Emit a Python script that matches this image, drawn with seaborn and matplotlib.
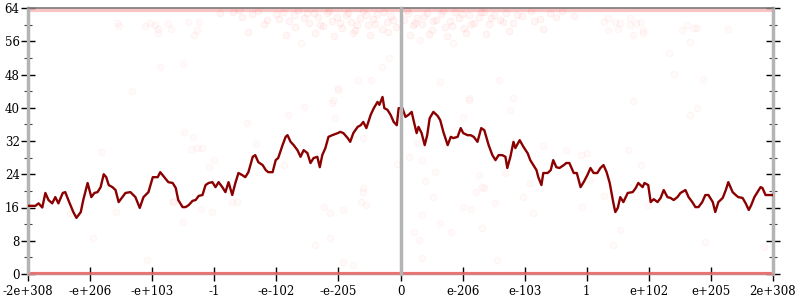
import numpy as np
import pandas as pd
import matplotlib
matplotlib.use("Agg")
import matplotlib.pyplot as plt
from matplotlib.ticker import MultipleLocator
import seaborn as sns

# ---------------- data ----------------
tick_pos = [-6, -5, -4, -3, -2, -1, 0, 1, 2, 3, 4, 5, 6]
tick_labels = ["-2e+308", "-e+206", "-e+103", "-1", "-e-102", "-e-205", "0",
               "e-206", "e-103", "1", "e+102", "e+205", "2e+308"]

line_x = [-6.0, -5.88, -5.83, -5.77, -5.72, -5.67, -5.61, -5.56, -5.51, -5.44, -5.40, -5.35,
          -5.27, -5.22, -5.15, -5.11, -5.04, -4.98, -4.93, -4.88, -4.83, -4.78, -4.74, -4.70,
          -4.64, -4.59, -4.54, -4.48, -4.43, -4.35, -4.27, -4.20, -4.14, -4.06, -3.99, -3.91,
          -3.87, -3.79, -3.74, -3.67, -3.62, -3.58, -3.51, -3.46, -3.41, -3.35, -3.30, -3.25,
          -3.19, -3.14, -3.09, -3.03, -2.98, -2.93, -2.87, -2.82, -2.77, -2.71, -2.66, -2.61,
          -2.55, -2.50, -2.45, -2.38, -2.34, -2.29, -2.22, -2.17, -2.13, -2.06, -2.01, -1.97,
          -1.90, -1.85, -1.82, -1.77, -1.72, -1.66, -1.61, -1.56, -1.50, -1.45, -1.40, -1.34,
          -1.30, -1.26, -1.21, -1.16, -1.10, -1.01, -0.97, -0.92, -0.85, -0.81, -0.76, -0.69,
          -0.64, -0.60, -0.55, -0.48, -0.43, -0.37, -0.34, -0.29, -0.26, -0.21, -0.16, -0.11,
          -0.06, -0.03, 0.03, 0.08, 0.13, 0.18, 0.21, 0.26, 0.29, 0.34, 0.39, 0.43, 0.47,
          0.53, 0.60, 0.64, 0.69, 0.76, 0.81, 0.85, 0.92, 0.97, 1.01, 1.08, 1.13, 1.18, 1.24,
          1.30, 1.35, 1.42, 1.48, 1.53, 1.58, 1.64, 1.69, 1.72, 1.77, 1.82, 1.85, 1.92, 1.98,
          2.05, 2.09, 2.14, 2.19, 2.22, 2.27, 2.30, 2.37, 2.42, 2.46, 2.51, 2.56, 2.63, 2.67,
          2.72, 2.79, 2.84, 2.90, 2.95, 3.01, 3.06, 3.11, 3.17, 3.22, 3.27, 3.32, 3.37, 3.43,
          3.46, 3.50, 3.54, 3.59, 3.66, 3.74, 3.79, 3.83, 3.90, 3.93, 3.99, 4.03, 4.08, 4.14,
          4.19, 4.24, 4.30, 4.35, 4.40, 4.46, 4.51, 4.59, 4.64, 4.70, 4.75, 4.80, 4.86, 4.91,
          4.96, 5.03, 5.07, 5.12, 5.19, 5.24, 5.28, 5.35, 5.40, 5.44, 5.51, 5.56, 5.61, 5.65,
          5.70, 5.77, 5.80, 5.83, 5.88, 6.0]
line_y = [16.4, 16.4, 17.0, 16.0, 19.5, 17.8, 17.0, 18.5, 17.0, 19.5, 19.7, 17.8,
          14.9, 13.5, 14.9, 17.8, 21.9, 18.5, 19.5, 19.7, 20.9, 24.0, 23.3, 21.4,
          20.9, 20.2, 17.3, 18.5, 19.5, 19.7, 18.5, 15.9, 18.5, 19.7, 23.3, 23.3,
          24.5, 23.0, 22.1, 21.9, 20.7, 17.8, 16.1, 16.1, 16.6, 17.6, 17.8, 18.8,
          19.0, 21.4, 21.9, 22.1, 20.9, 22.1, 20.9, 19.7, 22.1, 19.0, 21.9, 24.3,
          23.8, 23.3, 24.5, 28.2, 28.6, 26.9, 26.2, 25.0, 24.5, 24.5, 27.4, 27.9,
          31.0, 33.0, 33.4, 31.8, 31.0, 29.8, 28.2, 29.8, 29.1, 26.7, 27.9, 28.2,
          25.7, 28.6, 30.3, 33.0, 33.4, 33.9, 34.2, 33.9, 32.7, 31.8, 33.9, 35.4,
          35.8, 36.6, 35.1, 38.3, 39.9, 41.4, 40.7, 42.6, 39.9, 39.5, 38.3, 36.6,
          35.8, 39.9, 39.9, 37.8, 38.3, 39.0, 37.0, 33.9, 35.4, 33.9, 31.0, 33.4, 37.5,
          39.0, 38.0, 37.0, 34.2, 31.0, 33.0, 32.7, 33.0, 35.1, 33.9, 33.4, 33.4, 33.0, 31.8,
          35.1, 34.6, 31.0, 28.6, 27.4, 28.6, 28.6, 28.2, 25.5, 28.2, 31.8, 30.3, 32.2, 30.6,
          29.0, 27.4, 26.2, 25.0, 23.3, 21.4, 24.3, 24.3, 25.0, 27.4, 25.7, 25.5, 26.2, 26.7,
          26.7, 24.3, 24.3, 20.9, 22.1, 23.8, 25.5, 24.3, 24.3, 25.5, 26.2, 24.5, 21.9, 17.0,
          14.9, 15.9, 18.5, 17.3, 19.5, 19.7, 20.7, 21.9, 20.9, 21.9, 21.4, 17.3, 18.0, 17.3,
          18.3, 20.2, 18.5, 18.3, 17.8, 18.5, 19.5, 20.2, 18.5, 17.3, 16.1, 16.1, 17.3, 19.0,
          19.0, 17.3, 14.9, 17.3, 18.3, 20.2, 22.1, 19.7, 19.0, 18.5, 18.3, 17.0, 15.4, 16.6,
          18.5, 20.2, 20.9, 20.7, 19.0, 19.0]

# sparse faint samples
pts_x = [-4.56, -4.53, -4.11, -4.03, -3.95, -3.91, -3.90, -3.74, -3.70, -3.51, -3.87, -4.32,
         -3.42, -3.33, -3.27, -3.25, -1.61, -1.08, -0.48, -0.68, -1.01, -0.19, -0.29, 0.64,
         1.10, 1.58, 0.84, 0.31, -1.56, 3.27, 3.35, 3.46, 3.54, 3.35, 3.50, 3.70, 3.70, 3.79,
         3.87, 3.91, 3.90, 3.74, 4.54, 4.62, 4.72, 4.78, 5.28, 4.67, 4.32, 4.41, 4.88, 3.75,
         4.78, 4.67, -0.61, -0.60, -0.64, -0.56, -1.24, -1.13, -0.92, -1.37, -1.13, -0.92,
         -0.77, 0.52, 0.35, 0.64, 0.81, 0.29, 0.21, 0.35, 1.01, 1.13, 1.21, 1.32, 1.32, 1.53,
         1.56, -5.32, -4.95, -4.59, -4.08, -3.67, -3.50, 3.27, 3.54, 3.43, 4.91, 5.85, 3.98,
         -4.82, -2.48, -3.48, -3.35, -3.37, -3.27, -3.19, -2.32, -3.00, -3.09, -3.66, -3.22,
         -3.03, -2.71, -2.63, -1.01, -1.10, -1.82, -1.05, -0.61, -1.88, -0.05, 0.13, 1.10,
         1.82, 1.77, 1.00, 0.26, 0.35, 0.56, 1.26, 1.69, 1.34, 0.39, 2.29, 2.66, 2.90, 3.00,
         3.66, 3.87, 2.09, 1.98, 3.06, 2.92, 2.13]
pts_y = [60.4, 59.7, 59.7, 60.4, 59.9, 58.0, 58.9, 60.4, 58.9, 50.5, 49.8, 44.0,
         60.6, 57.5, 58.7, 60.6, 55.6, 41.9, 46.7, 46.7, 44.8, 52.0, 49.8, 46.2,
         42.3, 46.7, 55.6, 56.3, 40.2, 60.6, 61.6, 60.6, 60.4, 58.7, 58.9, 61.6, 59.9, 60.4,
         60.6, 58.7, 58.0, 57.5, 58.7, 59.9, 59.2, 59.2, 58.9, 55.8, 53.2, 48.1, 46.9, 41.6,
         39.9, 38.3, 20.7, 19.7, 17.3, 16.6, 16.1, 14.7, 15.4, 7.0, 8.7, 2.9,
         2.2, 18.5, 14.2, 12.3, 10.1, 8.2, 10.1, 3.8, 16.1, 15.6, 19.7, 20.9, 11.1, 17.1,
         3.4, 14.7, 8.7, 14.9, 3.4, 17.3, 12.5, 18.8, 10.6, 7.0, 7.7, 6.5, 16.6,
         29.4, 36.3, 34.2, 33.0, 30.1, 30.3, 30.3, 31.3, 27.4, 25.7, 17.6, 15.6,
         14.9, 17.3, 17.3, 44.3, 41.1, 38.3, 37.5, 32.7, 26.2, 26.5, 28.2, 41.9,
         42.3, 39.5, 37.8, 31.5, 27.4, 24.5, 23.8, 24.3, 20.7, 22.4, 30.8, 29.8, 28.6, 29.1,
         29.8, 26.2, 21.9, 18.5, 22.6, 16.1, 14.7]

# dense cloud just below the top edge (centre of the range)
cloud_x = [-2.9, -2.7, -2.55, -2.4, -2.3, -2.15, -2.0, -1.9, -1.8, -1.72, -1.65, -1.55,
           -1.48, -1.4, -1.33, -1.25, -1.18, -1.1, -1.03, -0.95, -0.88, -0.8, -0.74, -0.66,
           -0.6, -0.52, -0.45, -0.38, -0.3, -0.22, -0.15, -0.08, 0.05, 0.12, 0.2, 0.27,
           0.35, 0.42, 0.5, 0.57, 0.65, 0.72, 0.8, 0.88, 0.95, 1.03, 1.1, 1.18, 1.26, 1.34,
           1.42, 1.5, 1.6, 1.7, 1.82, 1.95, 2.1, 2.25, 2.4, 2.6, 2.8,
           -2.6, -2.2, -1.95, -1.7, -1.5, -1.3, -1.15, -0.98, -0.84, -0.7, -0.55, -0.41,
           -0.27, -0.12, 0.1, 0.24, 0.38, 0.53, 0.68, 0.83, 0.99, 1.14, 1.3, 1.46, 1.65,
           1.88, 2.15, 2.5,
           -2.45, -1.85, -1.38, -1.07, -0.77, -0.49, -0.2, 0.16, 0.46, 0.75, 1.06, 1.38,
           1.75, 2.3]
cloud_y = [62.8, 63.1, 61.9, 62.5, 63.3, 61.2, 62.6, 63.0, 60.9, 62.2, 63.4, 61.5,
           60.3, 62.7, 61.8, 59.6, 62.9, 60.8, 61.9, 59.2, 62.4, 60.6, 58.6, 61.7,
           63.2, 59.9, 61.3, 62.6, 58.9, 60.7, 62.1, 59.5, 61.0, 62.8, 59.8, 61.6,
           60.2, 62.9, 58.7, 61.2, 62.5, 59.4, 60.9, 63.1, 61.7, 59.3, 62.2, 60.5, 61.9,
           63.0, 60.1, 62.4, 61.1, 62.9, 60.4, 62.0, 63.2, 61.4, 62.7, 63.3, 62.1,
           63.5, 60.2, 61.4, 59.5, 62.9, 60.0, 63.3, 60.5, 62.7, 59.8, 62.3, 60.1,
           63.0, 61.0, 63.4, 60.4, 62.0, 60.9, 63.3, 59.6, 62.5, 60.2, 63.1, 61.5, 60.6,
           62.3, 60.8, 61.8,
           58.2, 57.6, 58.0, 57.3, 57.9, 57.5, 58.3, 57.4, 57.8, 57.2, 58.1, 57.7,
           58.4, 59.0]

# ---------------- style ----------------
sns.set_style("white")
plt.rcParams["font.family"] = ["DejaVu Serif"]
plt.rcParams["font.size"] = 8.5

W, H = 800, 300
fig = plt.figure(figsize=(W / 100, H / 100), dpi=100)
L, R, T, B = 28, 773, 8, 274
ax = fig.add_axes([L / W, 1 - B / H, (R - L) / W, (B - T) / H])
ax.set_facecolor("white")

# bands of overlapping samples along the bottom and top edges
ax.axhline(0, color="#e85a5a", lw=3.0, alpha=0.85, zorder=1)
ax.axhline(63.5, color="#f08080", lw=3.0, alpha=0.45, zorder=1)

cloud = pd.DataFrame({"x": cloud_x, "y": cloud_y})
sns.scatterplot(data=cloud, x="x", y="y", ax=ax, s=24, color=(1.0, 0.0, 0.0, 0.035),
                edgecolor=(1.0, 0.0, 0.0, 0.06), linewidth=0.6, zorder=2, legend=False)
pts = pd.DataFrame({"x": pts_x, "y": pts_y})
sns.scatterplot(data=pts, x="x", y="y", ax=ax, s=24, color=(1.0, 0.0, 0.0, 0.02),
                edgecolor=(1.0, 0.0, 0.0, 0.045), linewidth=0.6, zorder=2, legend=False)

line = pd.DataFrame({"x": line_x, "y": line_y})
sns.lineplot(data=line, x="x", y="y", ax=ax, color="#8b0000", lw=1.7,
             sort=False, estimator=None, zorder=5)

ax.set_xlim(-6, 6)
ax.set_ylim(0, 64)
ax.set_xticks(tick_pos)
ax.set_xticklabels(tick_labels)
ax.yaxis.set_major_locator(MultipleLocator(8))
ax.yaxis.set_minor_locator(MultipleLocator(4))
ax.set_xlabel("")
ax.set_ylabel("")

ax.tick_params(axis="y", which="major", direction="inout", length=10, width=1.0,
               left=True, right=True, labelleft=True, labelright=False, pad=1,
               colors="black")
ax.tick_params(axis="y", which="minor", direction="inout", length=6, width=0.8,
               left=True, right=True, color="#444444")
ax.tick_params(axis="x", which="major", direction="inout", length=10, width=1.0,
               bottom=True, top=False, pad=3, colors="black")
ax.tick_params(axis="x", which="minor", bottom=False)

for side in ("left", "right"):
    ax.spines[side].set_color("#b4b4b4")
    ax.spines[side].set_linewidth(2.5)
ax.spines["top"].set_color("#7a7a7a")
ax.spines["top"].set_linewidth(1.2)
ax.spines["bottom"].set_color("#d08080")
ax.spines["bottom"].set_linewidth(1.0)
for s in ax.spines.values():
    s.set_zorder(3)

# central vertical axis at x = 0
cx = (L + (R - L) / 2) / W
cax = fig.add_axes([cx, 1 - B / H, 0.0005, (B - T) / H], facecolor="none")
cax.set_ylim(0, 64)
cax.yaxis.set_major_locator(MultipleLocator(8))
cax.yaxis.set_minor_locator(MultipleLocator(4))
cax.set_xticks([])
for side in ("right", "top", "bottom"):
    cax.spines[side].set_visible(False)
cax.spines["left"].set_color("#b4b4b4")
cax.spines["left"].set_linewidth(2.5)
cax.tick_params(axis="y", which="major", direction="inout", length=10, width=1.0,
                labelleft=False, colors="black")
cax.tick_params(axis="y", which="minor", direction="inout", length=6, width=0.8,
                color="#444444")

fig.savefig("out.png", dpi=100)
